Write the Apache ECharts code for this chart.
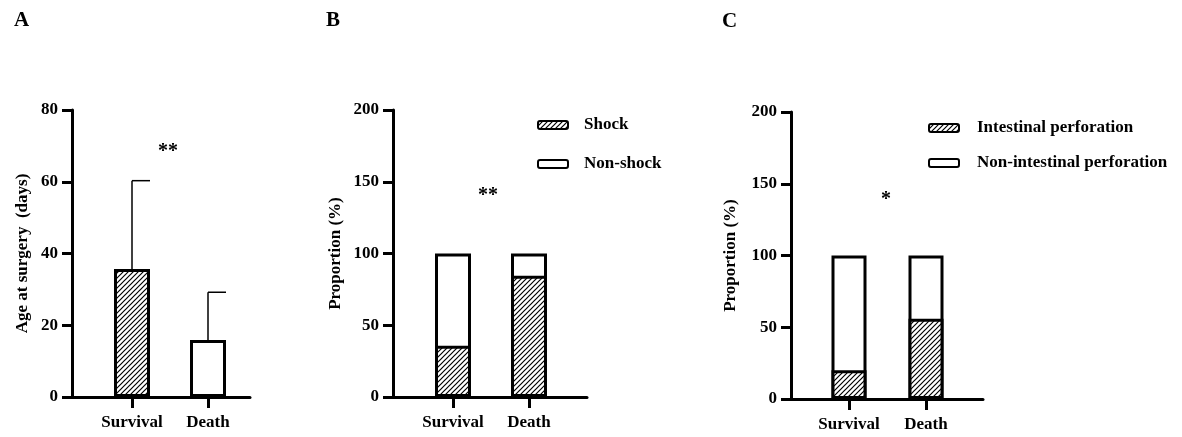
<!DOCTYPE html>
<html lang="en">
  <head>
    <meta charset="UTF-8" />
    <title>survival vs death panels</title>
    <script src="https://cdn.jsdelivr.net/npm/echarts@6/dist/echarts.min.js"></script>
    <style>
      body { margin: 0; background: #fff; }
      #main { width: 1182px; height: 437px; }
    </style>
  </head>
  <body>
    <div id="main"></div>
    <script>
      // data
      const groups = ['Survival', 'Death'];
      const ageMean = [35.7, 15.9];     // panel A, days
      const ageUpper = [60.3, 29.2];    // mean + SD
      const shockPct = [35.8, 84.5];    // panel B
      const nonShockPct = [64.2, 15.5];
      const perfPct = [20, 56];         // panel C
      const nonPerfPct = [80, 44];
      const yTicksA = [0, 80, 20];      // min, max, step
      const yTicksBC = [0, 200, 50];

      const FONT = 'Liberation Serif';
      const xPos = groups.map((g, i) => i + 1);

      // diagonal hatch fill
      function makeHatch() {
        const s = 5;
        const c = document.createElement('canvas');
        c.width = s; c.height = s;
        const ctx = c.getContext('2d');
        ctx.fillStyle = '#fff';
        ctx.fillRect(0, 0, s, s);
        ctx.strokeStyle = '#000';
        ctx.lineWidth = 1.2;
        ctx.beginPath();
        ctx.moveTo(0, s); ctx.lineTo(s, 0);
        ctx.moveTo(-1, 1); ctx.lineTo(1, -1);
        ctx.moveTo(s - 1, s + 1); ctx.lineTo(s + 1, s - 1);
        ctx.stroke();
        return c;
      }
      const hatch = { image: makeHatch(), repeat: 'repeat' };

      // value first, x position second
      const pairs = (vals) => vals.map((v, i) => [v, xPos[i]]);
      // upper segment drawn as full column behind the lower one,
      // so the shared edge keeps a single border (bar borders are inset)
      const totals = (low, high) => low.map((v, i) => v + high[i]);

      const labelStyle = { color: '#000', fontFamily: FONT, fontWeight: 'bold', fontSize: 17 };
      const lineStyle = { color: '#000', width: 3 };

      function xAxisFor(gridIndex, min, max) {
        return {
          type: 'value', gridIndex, min, max,
          splitLine: { show: false },
          axisLine: { lineStyle },
          axisTick: { customValues: xPos, length: 11, lineStyle },
          axisLabel: Object.assign({ customValues: xPos, margin: 17,
            formatter: (v) => groups[Math.round(v) - 1] }, labelStyle)
        };
      }
      function yAxisFor(gridIndex, ticks, name, nameGap) {
        return {
          type: 'value', gridIndex, min: ticks[0], max: ticks[1], interval: ticks[2],
          name, nameLocation: 'middle', nameGap, nameRotate: 90,
          nameTextStyle: labelStyle,
          splitLine: { show: false },
          axisLine: { show: true, lineStyle },
          axisTick: { show: true, length: 10, lineStyle },
          axisLabel: Object.assign({ margin: 14 }, labelStyle)
        };
      }

      const barBorder = { borderColor: '#000', borderWidth: 3 };

      function errorBars(params, api) {
        const x = api.value(0);
        const base = api.coord([x, api.value(1)]);
        const top = api.coord([x, api.value(2)]);
        const st = { stroke: '#000', lineWidth: 1.5 };
        return {
          type: 'group',
          children: [
            { type: 'line', shape: { x1: top[0], y1: base[1], x2: top[0], y2: top[1] }, style: st },
            { type: 'line', shape: { x1: top[0], y1: top[1], x2: top[0] + 18, y2: top[1] }, style: st }
          ]
        };
      }

      function barSeries(name, axis, width, fill, vals, z) {
        return { name, type: 'bar', xAxisIndex: axis, yAxisIndex: axis, barWidth: width,
          barGap: '-100%', z, encode: { x: 1, y: 0 },
          itemStyle: Object.assign({ color: fill }, barBorder), data: pairs(vals) };
      }

      const chart = echarts.init(document.getElementById('main'));
      const legendText = (pad) => ({ color: '#000', fontFamily: FONT, fontWeight: 'bold', fontSize: 17,
        lineHeight: 20, padding: [0, 0, 0, pad] });

      chart.setOption({
        animation: false,
        grid: [
          { left: 72, top: 110, width: 178, height: 287 },
          { left: 393, top: 110, width: 194, height: 287 },
          { left: 791, top: 112, width: 192, height: 287 }
        ],
        xAxis: [
          xAxisFor(0, 1 - 60 / 76, 2 + 42 / 76),
          xAxisFor(1, 1 - 60 / 76, 2 + 58 / 76),
          xAxisFor(2, 1 - 58 / 77, 2 + 57 / 77)
        ],
        yAxis: [
          yAxisFor(0, yTicksA, 'Age at surgery  (days)', 41),
          yAxisFor(1, yTicksBC, 'Proportion (%)', 49),
          yAxisFor(2, yTicksBC, 'Proportion (%)', 52)
        ],
        legend: [
          { orient: 'vertical', left: 537, top: 115, padding: 0, itemGap: 19, itemWidth: 30, itemHeight: 8,
            data: ['Shock', 'Non-shock'], itemStyle: { borderWidth: 2 }, textStyle: legendText(11) },
          { orient: 'vertical', left: 928, top: 118, padding: 0, itemGap: 15, itemWidth: 30, itemHeight: 8,
            data: ['Intestinal perforation', 'Non-intestinal perforation'], itemStyle: { borderWidth: 2 },
            textStyle: legendText(13) }
        ],
        series: [
          { name: 'Age', type: 'bar', xAxisIndex: 0, yAxisIndex: 0, barWidth: 36,
            encode: { x: 1, y: 0 },
            data: ageMean.map((v, i) => ({ value: [v, xPos[i]],
              itemStyle: Object.assign({ color: i === 0 ? hatch : '#fff' }, barBorder) })) },
          { name: 'SD', type: 'custom', xAxisIndex: 0, yAxisIndex: 0, z: 1,
            encode: { x: 0, y: [1, 2] },
            data: ageMean.map((v, i) => [xPos[i], v, ageUpper[i]]), renderItem: errorBars },
          barSeries('Shock', 1, 36, hatch, shockPct, 3),
          barSeries('Non-shock', 1, 36, '#fff', totals(shockPct, nonShockPct), 2),
          barSeries('Intestinal perforation', 2, 35, hatch, perfPct, 3),
          barSeries('Non-intestinal perforation', 2, 35, '#fff', totals(perfPct, nonPerfPct), 2)
        ],
        graphic: [
          { type: 'text', left: 14, top: 10, style: { text: 'A', font: 'bold 21px ' + FONT, fill: '#000' } },
          { type: 'text', left: 326, top: 10, style: { text: 'B', font: 'bold 21px ' + FONT, fill: '#000' } },
          { type: 'text', left: 722, top: 11, style: { text: 'C', font: 'bold 21px ' + FONT, fill: '#000' } },
          { type: 'text', x: 168, y: 152, style: { text: '**', font: 'bold 20px ' + FONT, fill: '#000',
            textAlign: 'center', textVerticalAlign: 'middle' } },
          { type: 'text', x: 488, y: 196, style: { text: '**', font: 'bold 20px ' + FONT, fill: '#000',
            textAlign: 'center', textVerticalAlign: 'middle' } },
          { type: 'text', x: 886, y: 200, style: { text: '*', font: 'bold 20px ' + FONT, fill: '#000',
            textAlign: 'center', textVerticalAlign: 'middle' } }
        ]
      });
    </script>
  </body>
</html>
